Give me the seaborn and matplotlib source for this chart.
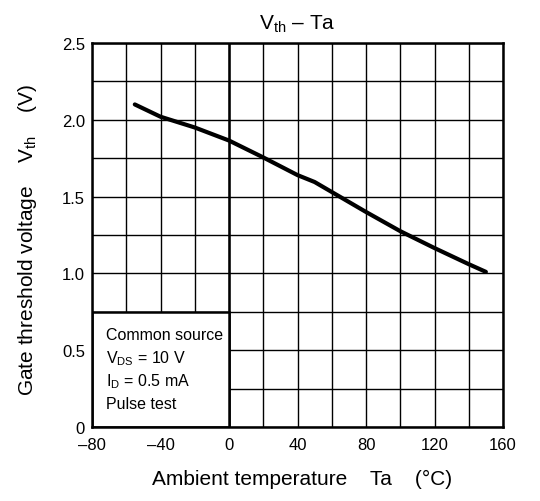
import numpy as np
import pandas as pd
import matplotlib
matplotlib.use("Agg")
import matplotlib.pyplot as plt
from matplotlib.patches import Rectangle
import seaborn as sns

# Données (Vth en fonction de Ta)
temperature = [-55, -40, -20, 0, 20, 40, 50, 60, 80, 100, 120, 140, 150]
vth = [2.10, 2.02, 1.95, 1.865, 1.755, 1.64, 1.595, 1.53, 1.40, 1.275, 1.165, 1.06, 1.01]

x_ticks = [-80, -40, 0, 40, 80, 120, 160]
x_tick_labels = ["\u201380", "\u201340", "0", "40", "80", "120", "160"]
y_ticks = [0, 0.5, 1.0, 1.5, 2.0, 2.5]
y_tick_labels = ["0", "0.5", "1.0", "1.5", "2.0", "2.5"]

conditions = ["Common source", "V$_{\\mathrm{DS}}$ = 10 V", "I$_{\\mathrm{D}}$ = 0.5 mA", "Pulse test"]
cond_y = [0.60, 0.45, 0.30, 0.15]

df = pd.DataFrame({"Ta": temperature, "Vth": vth})

sns.set_style("white")
plt.rcParams["font.family"] = ["Liberation Sans", "DejaVu Sans"]
plt.rcParams["mathtext.fontset"] = "custom"
plt.rcParams["mathtext.rm"] = "Liberation Sans"
plt.rcParams["mathtext.it"] = "Liberation Sans:italic"
plt.rcParams["text.color"] = "black"
plt.rcParams["axes.labelcolor"] = "black"

fig, ax = plt.subplots(figsize=(5.4, 5.02), dpi=100)
fig.subplots_adjust(left=92 / 540, right=503 / 540, top=1 - 44 / 502, bottom=1 - 428 / 502)

# grille
ax.set_xlim(-80, 160)
ax.set_ylim(0, 2.5)
ax.set_xticks(x_ticks)
ax.set_xticklabels(x_tick_labels)
ax.set_xticks(np.arange(-80, 161, 20), minor=True)
ax.set_yticks(y_ticks)
ax.set_yticklabels(y_tick_labels)
ax.set_yticks(np.arange(0, 2.51, 0.25), minor=True)
ax.grid(which="both", color="black", lw=1.0)
ax.set_axisbelow(True)
ax.axvline(0, color="black", lw=1.8, zorder=0.6)
ax.tick_params(which="both", length=0, labelsize=12, colors="black")
ax.tick_params(axis="x", pad=7)
ax.tick_params(axis="y", pad=5)

# courbe
sns.lineplot(data=df, x="Ta", y="Vth", color="black", lw=3, ax=ax, zorder=3)

# encadré des conditions
ax.add_patch(Rectangle((-80, 0), 80, 0.75, facecolor="white", edgecolor="black", lw=1.8, zorder=2))
for txt, yy in zip(conditions, cond_y):
    ax.text(-72, yy, txt, fontsize=11.5, va="center", ha="left", zorder=4)

for sp in ax.spines.values():
    sp.set_visible(True)
    sp.set_color("black")
    sp.set_linewidth(1.8)
    sp.set_zorder(5)

ax.set_title("V$_{\\mathrm{th}}$ \u2013 Ta", fontsize=15, pad=10)
ax.set_xlabel("Ambient temperature    Ta    (\u00b0C)", fontsize=15)
ax.set_ylabel("Gate threshold voltage    V$_{\\mathrm{th}}$    (V)", fontsize=15)
ax.xaxis.set_label_coords(0.51, -0.11)
ax.yaxis.set_label_coords(-0.13, 0.49)

plt.savefig("out.png", dpi=100)
